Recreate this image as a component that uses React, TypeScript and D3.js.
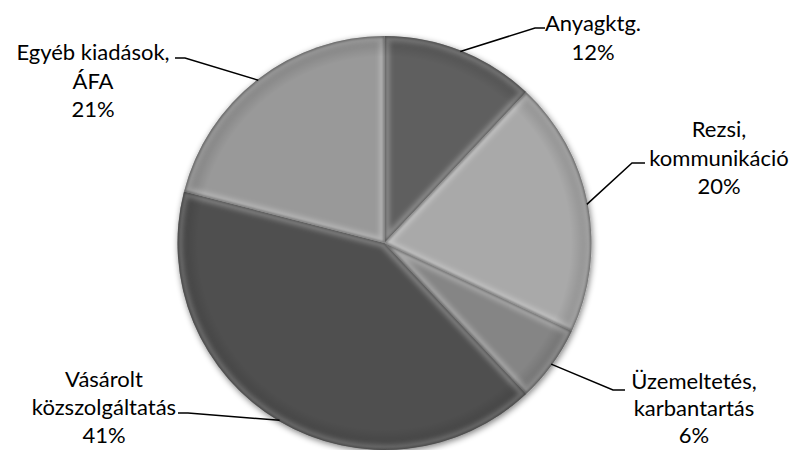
import React from "react";
import * as d3 from "d3";

const categories = ["Anyagktg.", "Rezsi, kommunikáció", "Üzemeltetés, karbantartás", "Vásárolt közszolgáltatás", "Egyéb kiadások, ÁFA"];
const values = [12, 20, 6, 41, 21];
const labelLines = [
  ["Anyagktg.", "12%"],
  ["Rezsi,", "kommunikáció", "20%"],
  ["Üzemeltetés,", "karbantartás", "6%"],
  ["Vásárolt", "közszolgáltatás", "41%"],
  ["Egyéb kiadások,", "ÁFA", "21%"],
];
const colors = ["#5f5f5f", "#a9a9a9", "#858585", "#4f4f4f", "#999999"];

// label layout: text block center x, first baseline y, line height, elbow point and side
const labelLayout = [
  { x: 593, y: 31, lh: 28.5, ex: 535, ey: 28, hx: 545 },
  { x: 719, y: 137, lh: 28.5, ex: 632, ey: 163, hx: 645 },
  { x: 694, y: 389, lh: 27, ex: 613, ey: 390, hx: 625 },
  { x: 104, y: 387, lh: 28, ex: 188, ey: 413, hx: 178 },
  { x: 93, y: 60, lh: 28.5, ex: 185, ey: 58, hx: 175 },
];

const W = 794, H = 450;
const cx = 384.5, cy = 243, R = 207;

export default function App() {
  const pie = d3.pie<number>().sort(null).value((d) => d);
  const arcs = pie(values);
  const arcGen = d3.arc<d3.PieArcDatum<number>>().innerRadius(0).outerRadius(R);
  return (
    <svg width={W} height={H} style={{ position: "absolute", left: 0, top: 0 }} fontFamily="Lato, 'Open Sans', sans-serif">
      <defs>
        <filter id="shadow" x="-20%" y="-20%" width="140%" height="140%">
          <feGaussianBlur in="SourceAlpha" stdDeviation="3" />
          <feOffset dx="1" dy="2" result="b" />
          <feComponentTransfer><feFuncA type="linear" slope="0.5" /></feComponentTransfer>
          <feMerge><feMergeNode /><feMergeNode in="SourceGraphic" /></feMerge>
        </filter>
        <filter id="blur3"><feGaussianBlur stdDeviation="2.5" /></filter>
        <filter id="blur1"><feGaussianBlur stdDeviation="1" /></filter>
        <radialGradient id="rim" cx="0.5" cy="0.5" r="0.5">
          <stop offset="0.9" stopColor="#000" stopOpacity="0" />
          <stop offset="1" stopColor="#000" stopOpacity="0.18" />
        </radialGradient>
        {arcs.map((a, i) => (
          <clipPath id={`clip${i}`} key={i}>
            <path d={arcGen(a) || ""} transform={`translate(${cx},${cy})`} />
          </clipPath>
        ))}
      </defs>
      <g filter="url(#shadow)">
        {arcs.map((a, i) => (
          <path key={i} d={arcGen(a) || ""} transform={`translate(${cx},${cy})`} fill={colors[i]} />
        ))}
      </g>
      {arcs.map((a, i) => (
        <g key={i} clipPath={`url(#clip${i})`}>
          <path d={arcGen(a) || ""} transform={`translate(${cx},${cy})`} fill="none" stroke="#fff" strokeOpacity={0.28} strokeWidth={10} filter="url(#blur3)" />
          <path d={arcGen(a) || ""} transform={`translate(${cx},${cy})`} fill="none" stroke="#000" strokeOpacity={0.35} strokeWidth={2.5} filter="url(#blur1)" />
        </g>
      ))}
      <circle cx={cx} cy={cy} r={R} fill="url(#rim)" />
      {arcs.map((a, i) => {
        const mid = (a.startAngle + a.endAngle) / 2;
        const ax = cx + Math.sin(mid) * (R - 1);
        const ay = cy - Math.cos(mid) * (R - 1);
        const L = labelLayout[i];
        return (
          <g key={i}>
            <polyline points={`${ax},${ay} ${L.ex},${L.ey} ${L.hx},${L.ey}`} fill="none" stroke="#000" strokeWidth={1.5} />
            <text x={L.x} y={L.y} textAnchor="middle" fontSize={22} fill="#000">
              {labelLines[i].map((t, j) => (
                <tspan key={j} x={L.x} y={L.y + j * L.lh}>{t}</tspan>
              ))}
            </text>
          </g>
        );
      })}
    </svg>
  );
}
